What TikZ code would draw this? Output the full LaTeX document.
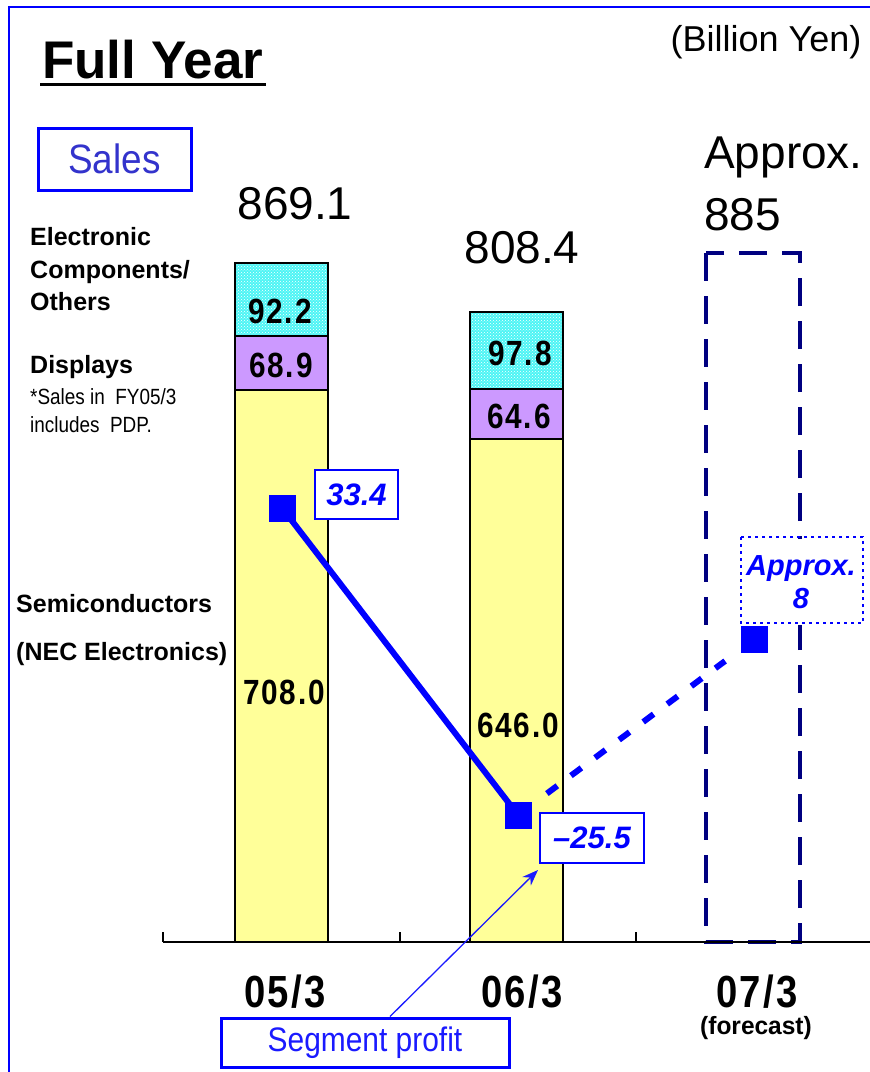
\documentclass[tikz,border=0pt]{standalone}
\usepackage{fontspec}
\setmainfont{Liberation Sans}
\newfontfamily\gothic{Liberation Sans}[LetterSpace=6]
\usepackage{graphicx}
\usetikzlibrary{patterns,arrows.meta}
\definecolor{frameblue}{HTML}{0000FF}
\definecolor{salesblue}{HTML}{3333CC}
\definecolor{segblue}{HTML}{1A1AFF}
\definecolor{barcyan}{HTML}{4DF5F5}
\definecolor{barpurple}{HTML}{CC99FF}
\definecolor{baryellow}{HTML}{FFFF99}
\definecolor{navybox}{HTML}{000080}
\newcommand\narrowtxt[2]{\scalebox{#1}[1]{#2}}
\newcommand\fsz[1]{\fontsize{#1}{#1}\selectfont}
\begin{document}
\begin{tikzpicture}[x=1pt,y=-1pt,
  barline/.style={draw=black, line width=1.3pt},
  numlab/.style={inner sep=0pt, font=\gothic\fsz{35}\bfseries},
  leglab/.style={inner sep=0pt, anchor=base west, font=\fsz{25}\bfseries},
  notelab/.style={inner sep=0pt, anchor=base west, font=\fsz{22}},
  totlab/.style={inner sep=0pt, font=\fsz{46}},
  axlab/.style={inner sep=0pt, font=\gothic\fsz{45}\bfseries},
  pbox/.style={draw=frameblue, line width=1.5pt, fill=white, text=frameblue, inner sep=0pt, font=\fsz{31}\bfseries\itshape},
  marker/.style={fill=frameblue, inner sep=0pt, minimum size=27pt},
  keybox/.style={draw=frameblue, line width=3pt, fill=white, inner sep=0pt}
]
\useasboundingbox (0,0) rectangle (870,1072);
\begin{scope}
\clip (0,0) rectangle (870,1072);
\draw[frameblue, line width=2.5pt] (9,7) rectangle (900,1100);
\end{scope}

% title
\node[inner sep=0pt, anchor=base west, font=\fsz{53}\bfseries] (title) at (42,78) {Full Year};
\draw[line width=3pt] (40,84) -- (266,84);
\node[inner sep=0pt, font=\fsz{36}] (unit) at (766,42) {(Billion Yen)};

% sales key
\node[keybox, minimum width=153pt, minimum height=62pt, text=salesblue, font=\fsz{41}] (sales) at (114.5,159) {\narrowtxt{0.9}{Sales}};

% legend labels
\node[leglab] (l1) at (30,245) {Electronic};
\node[leglab] (l2) at (30,278) {Components/};
\node[leglab] (l3) at (30,310) {Others};
\node[leglab] (l4) at (30,373) {Displays};
\node[notelab] (l5) at (30,404) {\narrowtxt{0.86}{*Sales in\ \ FY05/3}};
\node[notelab] (l6) at (30,432) {\narrowtxt{0.86}{includes\ \ PDP.}};
\node[leglab] (l7) at (16,612) {Semiconductors};
\node[leglab] (l8) at (16,660) {(NEC Electronics)};

% bar 1
\fill[baryellow] (235,390) rectangle (328,942);
\fill[barpurple] (235,336) rectangle (328,390);
\fill[barcyan] (235,263) rectangle (328,336);
\fill[pattern=crosshatch dots, pattern color=white] (235,263) rectangle (328,336);
\draw[barline] (235,942) -- (235,263) -- (328,263) -- (328,942);
\draw[barline] (235,336) -- (328,336);
\draw[barline] (235,390) -- (328,390);
% bar 2
\fill[baryellow] (470,439) rectangle (563,942);
\fill[barpurple] (470,389) rectangle (563,439);
\fill[barcyan] (470,312) rectangle (563,389);
\fill[pattern=crosshatch dots, pattern color=white] (470,312) rectangle (563,389);
\draw[barline] (470,942) -- (470,312) -- (563,312) -- (563,942);
\draw[barline] (470,389) -- (563,389);
\draw[barline] (470,439) -- (563,439);
% forecast box
\draw[navybox, line width=4pt, dash pattern=on 28pt off 15pt] (706,253) rectangle (800,942);

% axis
\draw[line width=1.5pt] (163,942) -- (875,942);
\foreach \tx in {163,400,636} \draw[line width=1.5pt] (\tx,932) -- (\tx,942);

% bar values
\node[numlab] (v1) at (280,311) {\narrowtxt{0.85}{92.2}};
\node[numlab] (v2) at (281,365) {\narrowtxt{0.85}{68.9}};
\node[numlab] (v3) at (284,692) {\narrowtxt{0.85}{708.0}};
\node[numlab] (v4) at (520,353) {\narrowtxt{0.85}{97.8}};
\node[numlab] (v5) at (519,416) {\narrowtxt{0.85}{64.6}};
\node[numlab] (v6) at (518,725) {\narrowtxt{0.85}{646.0}};

% totals
\node[totlab] (t1) at (295,204) {869.1};
\node[totlab] (t2) at (522,248) {808.4};
\node[totlab, anchor=west] (t3) at (704,157) {Approx.};
\node[totlab, anchor=west] (t4) at (704,215) {885};

% axis labels
\node[axlab] (a1) at (285,992) {\narrowtxt{0.85}{05/3}};
\node[axlab] (a2) at (522,992) {\narrowtxt{0.85}{06/3}};
\node[axlab] (a3) at (757,992) {\narrowtxt{0.85}{07/3}};
\node[inner sep=0pt, font=\fsz{25}\bfseries] (fc) at (756,1028) {\narrowtxt{0.98}{(forecast)}};

% segment profit line
\coordinate (p1) at (282.5,508.5);
\coordinate (p2) at (518,815);
\coordinate (p3) at (754,639.5);
\draw[frameblue, line width=6pt] (p1) -- (p2);
\draw[frameblue, line width=6pt, dash pattern=on 13pt off 17pt, shorten <=36pt, shorten >=36pt] (p2) -- (p3);
\node[marker] (m1) at (p1) {};
\node[marker] (m2) at (p2) {};
\node[marker] (m3) at (p3) {};

\node[pbox, minimum width=83pt, minimum height=49pt] (b1) at (356.5,494.5) {33.4};
\node[pbox, minimum width=104pt, minimum height=50pt] (b2) at (592,838) {–25.5};
\node[pbox, draw=none, minimum width=122pt, minimum height=86pt, align=center, font=\fsz{29}\bfseries\itshape] (b3) at (801,582) {Approx.\\[4pt]8};
\draw[frameblue, line width=2pt, dash pattern=on 3pt off 4pt] (741,537) rectangle (863,623);

% segment profit key
\node[keybox, minimum width=288pt, minimum height=49pt, text=segblue, font=\fsz{34}] (seg) at (365,1042.5) {\narrowtxt{0.88}{Segment profit}};
\coordinate (tip) at (538,870);
\draw[segblue, line width=1.3pt, -{Stealth[length=16pt,width=12pt]}] ([xshift=25pt]seg.north) -- (tip);
\end{tikzpicture}
\end{document}
